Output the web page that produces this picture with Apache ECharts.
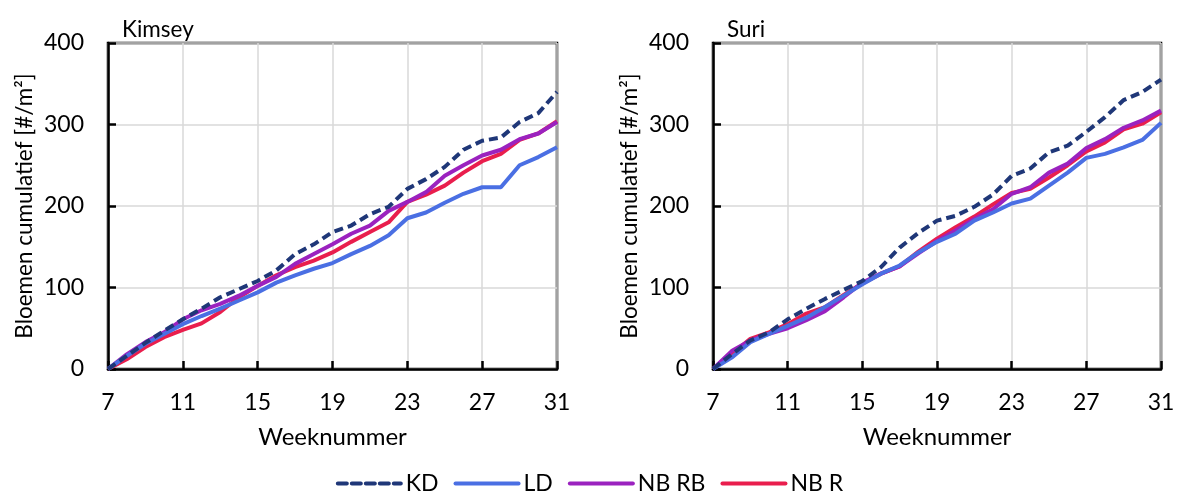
<!DOCTYPE html>
<html><head><meta charset="utf-8">
<script src="https://cdn.jsdelivr.net/npm/echarts@6/dist/echarts.min.js"></script>
<style>html,body{margin:0;padding:0;background:#fff}#c{width:1179px;height:494px}</style>
</head><body><div id="c"></div><script>
const weeks = [7,8,9,10,11,12,13,14,15,16,17,18,19,20,21,22,23,24,25,26,27,28,29,30,31];
const seriesNames = ['KD','LD','NB RB','NB R'];
const panelTitles = ['Kimsey','Suri'];
const yTicks = {min:0, max:400, step:100};

const kimseyKD   = [0,16,32,47,61,74,88,98,108,121,141,153,168,176,190,199,221,233,248,269,280,284,303,314,340];
const kimseyLD   = [0,16,31,43,55,65,74,84,94,106,115,123,130,141,151,164,185,192,204,215,223,223,250,260,272];
const kimseyNBRB = [0,18,33,45,61,72,80,90,102,113,129,141,153,166,176,194,205,217,237,250,262,269,282,289,303];
const kimseyNBR  = [0,12,27,39,48,56,70,88,102,115,125,133,143,156,168,180,205,214,225,241,255,264,281,289,304];

const suriKD   = [0,18,35,45,61,74,86,97,108,125,149,167,182,188,199,214,237,246,266,274,291,309,330,340,355];
const suriLD   = [0,14,33,43,53,63,76,90,104,117,127,143,156,166,182,192,203,209,225,241,259,264,272,281,302];
const suriNBRB = [0,22,35,43,50,60,71,88,106,117,126,142,157,170,184,196,215,223,241,252,271,282,296,305,317];
const suriNBR  = [0,18,37,45,55,68,76,91,105,117,126,144,160,174,187,202,216,221,235,250,267,278,294,301,315];

const colors = {'KD':'#1f3778','LD':'#4a6fe3','NB RB':'#9b22bf','NB R':'#e91e4d'};
const FONT = 'Lato';
const panels = [
  {title: panelTitles[0], data: [kimseyKD, kimseyLD, kimseyNBRB, kimseyNBR], left: 108, width: 449},
  {title: panelTitles[1], data: [suriKD, suriLD, suriNBRB, suriNBR], left: 713, width: 448}
];

const grids = [], xAxes = [], yAxes = [], series = [], titles = [];
panels.forEach((p, i) => {
  grids.push({left: p.left, top: 43, width: p.width, height: 326, show: true, borderColor: '#000', borderWidth: 2.5, backgroundColor: 'transparent'});
  titles.push({text: p.title, left: p.left + 9, top: 13, textStyle: {fontFamily: FONT, fontSize: 22.5, fontWeight: 'normal', color: '#000'}});
  xAxes.push({
    type: 'category', gridIndex: i, data: weeks, boundaryGap: false,
    name: 'Weeknummer', nameLocation: 'middle', nameGap: 56,
    nameTextStyle: {fontFamily: FONT, fontSize: 24, color: '#000'},
    axisLine: {lineStyle: {color: '#000', width: 2.5}},
    axisTick: {inside: true, length: 8, interval: 3, lineStyle: {color: '#000', width: 2.5}},
    axisLabel: {interval: 3, margin: 22, fontFamily: FONT, fontSize: 23, color: '#000'},
    splitLine: {show: true, interval: 3, lineStyle: {color: '#d9d9d9', width: 1.5}}
  });
  yAxes.push({
    type: 'value', gridIndex: i, min: yTicks.min, max: yTicks.max, interval: yTicks.step,
    name: 'Bloemen cumulatief [#/m²]', nameLocation: 'middle', nameGap: 72,
    nameTextStyle: {fontFamily: FONT, fontSize: 22.5, color: '#000'},
    axisLine: {show: true, lineStyle: {color: '#000', width: 2.5}},
    axisTick: {show: true, inside: true, length: 8, lineStyle: {color: '#000', width: 2.5}},
    axisLabel: {margin: 24, fontFamily: FONT, fontSize: 23, color: '#000'},
    splitLine: {show: true, lineStyle: {color: '#d9d9d9', width: 1.5}}
  });
  p.data.forEach((d, k) => {
    const name = seriesNames[k];
    series.push({
      name, type: 'line', xAxisIndex: i, yAxisIndex: i, data: d, symbol: 'none', showSymbol: false, smooth: false,
      z: 10 - k,
      lineStyle: {color: colors[name], width: 4, type: name === 'KD' ? [9, 5] : 'solid'},
      itemStyle: {color: colors[name]}
    });
  });
});

const chart = echarts.init(document.getElementById('c'), null, {renderer: 'canvas'});
chart.setOption({
  animation: false,
  backgroundColor: '#fff',
  title: titles,
  grid: grids, xAxis: xAxes, yAxis: yAxes, series,
  legend: {
    data: seriesNames, top: 467, left: 'center',
    itemWidth: 63, itemHeight: 14, itemGap: 15,
    itemStyle: {opacity: 0},
    lineStyle: {width: 4, cap: 'round'},
    textStyle: {fontFamily: FONT, fontSize: 23, color: '#000'}
  }
});
</script></body></html>
